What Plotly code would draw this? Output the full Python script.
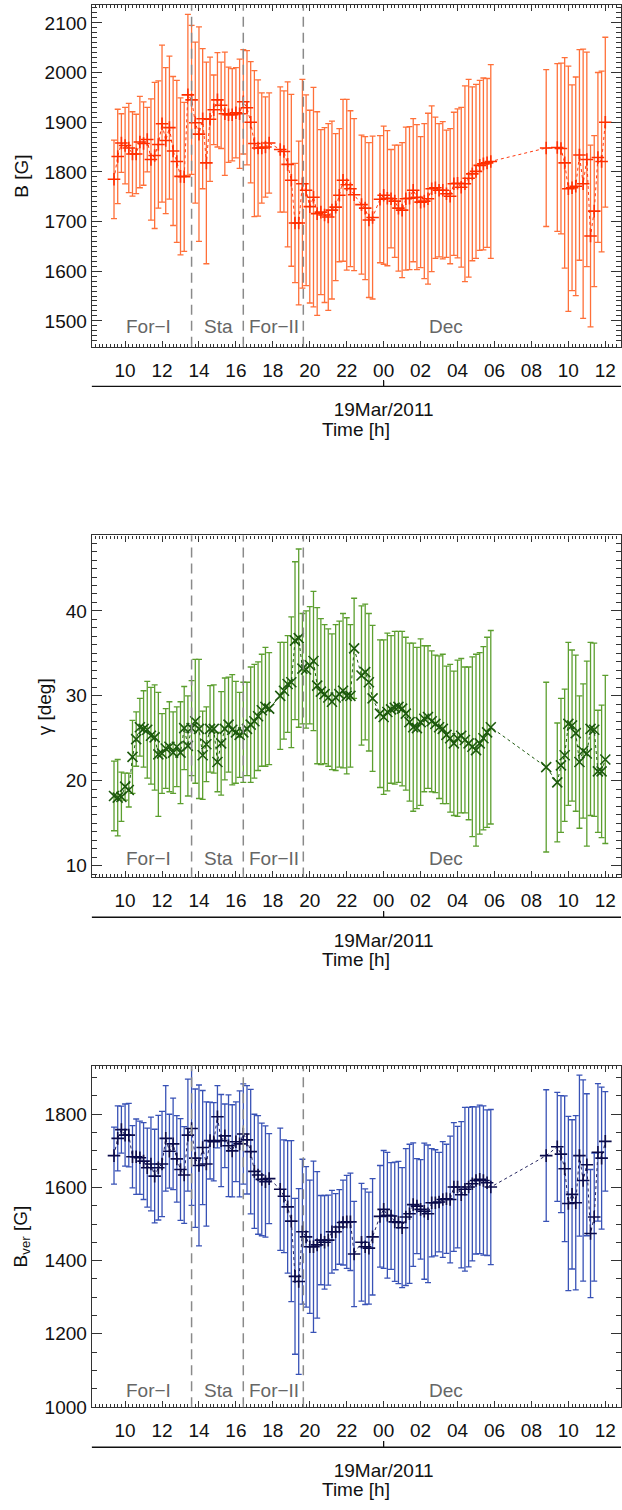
import plotly.graph_objects as go

# ---------------- data ----------------
# time in hours counted from 18 Mar 2011 00:00 (24 = 19 Mar 00:00)
time_h = [
    9.4, 9.6, 9.8, 10.0, 10.2, 10.4, 10.6, 10.8, 11.0, 11.2, 11.4, 11.6, 11.8, 12.0, 12.2,
    12.4, 12.6, 12.8, 13.0, 13.2, 13.4, 13.6, 13.8, 14.0, 14.2, 14.4, 14.6, 14.8, 15.0, 15.2,
    15.4, 15.6, 15.8, 16.0, 16.2, 16.4, 16.6, 16.8, 17.0, 17.2, 17.4, 17.6, 17.8,
    18.4, 18.6, 18.8, 19.0, 19.2, 19.4, 19.6, 19.8, 20.0, 20.2, 20.4, 20.6, 20.8, 21.0, 21.2,
    21.4, 21.6, 21.8, 22.0, 22.2, 22.4,
    22.8, 23.0, 23.2, 23.4,
    23.8, 24.0, 24.2, 24.4, 24.6, 24.8, 25.0, 25.2, 25.4, 25.6, 25.8, 26.0, 26.2, 26.4, 26.6,
    26.8, 27.0, 27.2, 27.4, 27.6, 27.8, 28.0, 28.2, 28.4, 28.6, 28.8, 29.0, 29.2, 29.4, 29.6, 29.8,
    32.8, 33.4, 33.6, 33.8, 34.0, 34.2, 34.4, 34.6, 34.8, 35.0, 35.2, 35.4, 35.6, 35.8, 36.0,
]

B_val = [
    1785, 1831, 1858, 1853, 1848, 1836, 1836, 1860, 1857, 1865, 1825, 1833, 1855, 1897, 1863,
    1889, 1842, 1821, 1791, 1790, 1955, 1945, 1899, 1876, 1907, 1818, 1906, 1925, 1945, 1934,
    1917, 1915, 1915, 1919, 1917, 1941, 1929, 1900, 1857, 1848, 1848, 1850, 1858,
    1845, 1841, 1815, 1783, 1697, 1697, 1776, 1763, 1730, 1749, 1716, 1719, 1713, 1709, 1723,
    1729, 1753, 1783, 1774, 1766, 1754,
    1734, 1727, 1703, 1708,
    1745, 1753, 1747, 1746, 1741, 1727, 1723, 1746, 1747, 1763, 1749, 1739, 1741, 1746, 1766,
    1768, 1763, 1763, 1756, 1751, 1776, 1777, 1769, 1776, 1787, 1796, 1801, 1813, 1816, 1818, 1821,
    1848, 1849, 1847, 1818, 1766, 1768, 1771, 1834, 1776, 1825, 1671, 1721, 1829, 1821, 1900,
]
B_err = [
    79, 95, 59, 77, 90, 85, 80, 92, 84, 65, 122, 147, 128, 158, 147,
    144, 150, 163, 158, 150, 162, 150, 162, 216, 141, 203, 125, 70, 95, 87,
    124, 96, 93, 91, 110, 105, 115, 122, 147, 137, 111, 101, 101,
    126, 122, 166, 173, 120, 165, 210, 192, 194, 221, 205, 166, 176, 188, 179,
    148, 134, 163, 172, 157, 153,
    140, 144, 156, 164,
    128, 139, 136, 99, 113, 127, 136, 144, 144, 144, 146, 132, 156, 172, 167,
    142, 134, 138, 128, 136, 144, 150, 161, 197, 199, 175, 175, 171, 173, 170, 195,
    158, 169, 172, 212, 247, 207, 220, 212, 271, 216, 183, 152, 171, 182, 171,
]

gamma_val = [
    18.2, 18.0, 18.1, 19.3, 18.9, 22.8, 24.9, 26.3, 26.1, 26.0, 25.3, 25.1, 23.1, 23.2, 23.8,
    24.0, 23.3, 24.0, 23.3, 26.2, 24.1, 26.2, 27.0, 26.1, 23.0, 24.3, 26.1, 26.1, 22.2, 24.4,
    26.1, 26.6, 26.0, 25.7, 25.4, 25.7, 26.1, 26.6, 27.0, 27.6, 28.3, 28.7, 28.5,
    30.0, 30.6, 31.4, 31.6, 36.5, 36.8, 33.2, 33.1, 33.6, 34.1, 31.2, 30.5, 30.2, 29.8, 29.3,
    29.8, 30.2, 30.6, 30.0, 30.0, 35.6,
    32.4, 32.8, 31.6, 29.7,
    27.9, 27.5, 28.1, 28.4, 28.6, 28.7, 28.5, 27.9, 26.9, 26.3, 26.2, 26.9, 27.3, 27.5, 27.0,
    26.7, 26.3, 26.1, 25.4, 25.0, 24.4, 25.0, 25.3, 24.8, 24.4, 24.0, 23.6, 24.4, 25.0, 25.7, 26.3,
    21.6, 19.8, 21.8, 23.0, 26.7, 26.5, 25.6, 22.2, 23.5, 23.2, 26.1, 26.0, 21.1, 21.1, 22.5,
]
gamma_err = [
    4.1, 4.5, 2.9, 1.6, 2.0, 4.3, 3.2, 3.4, 4.5, 5.7, 5.7, 6.2, 7.3, 4.7, 4.7,
    5.3, 4.8, 4.7, 6.0, 4.9, 5.9, 5.6, 7.3, 8.2, 5.2, 4.4, 5.1, 5.2, 3.5, 6.1,
    6.0, 5.6, 6.5, 6.0, 5.0, 5.9, 5.5, 6.8, 6.7, 6.4, 6.6, 7.0, 6.6,
    6.3, 5.7, 5.7, 7.7, 9.3, 10.5, 6.5, 6.9, 6.9, 8.2, 9.2, 8.6, 8.2, 8.1, 8.0,
    8.6, 8.6, 9.1, 9.2, 8.4, 5.9,
    8.2, 8.0, 8.1, 8.6,
    8.7, 9.1, 9.3, 8.7, 9.0, 8.9, 9.1, 9.0, 9.3, 9.9, 9.5, 9.8, 8.6, 8.4, 8.3,
    8.1, 8.4, 8.8, 8.1, 8.7, 8.5, 9.2, 9.1, 8.6, 9.0, 10.6, 11.3, 10.7, 10.8, 11.2, 11.4,
    10.0, 7.0, 7.9, 7.8, 9.6, 8.9, 9.2, 7.8, 7.9, 10.9, 10.2, 10.2, 7.2, 7.8, 9.9,
]

Bver_val = [
    1687, 1734, 1758, 1743, 1743, 1684, 1684, 1681, 1672, 1654, 1664, 1631, 1654, 1664, 1734,
    1699, 1719, 1678, 1649, 1634, 1743, 1761, 1680, 1660, 1709, 1664, 1728, 1725, 1793, 1728,
    1741, 1714, 1700, 1725, 1719, 1746, 1730, 1698, 1644, 1634, 1622, 1616, 1624,
    1595, 1576, 1547, 1508, 1357, 1343, 1479, 1465, 1438, 1438, 1443, 1456, 1450, 1456, 1479,
    1479, 1492, 1504, 1506, 1506, 1418,
    1450, 1438, 1434, 1465,
    1521, 1540, 1524, 1522, 1506, 1504, 1490, 1519, 1528, 1553, 1549, 1540, 1535, 1528, 1558,
    1558, 1560, 1567, 1569, 1567, 1601, 1601, 1580, 1595, 1601, 1610, 1619, 1622, 1619, 1613, 1601,
    1687, 1711, 1691, 1651, 1556, 1581, 1558, 1687, 1619, 1662, 1474, 1519, 1696, 1680, 1726,
]
Bver_err = [
    78, 89, 64, 85, 87, 85, 103, 100, 105, 108, 128, 128, 143, 144, 144,
    101, 125, 118, 139, 132, 153, 210, 189, 220, 156, 170, 105, 107, 85, 126,
    87, 139, 126, 109, 145, 137, 148, 170, 156, 162, 154, 152, 123,
    167, 154, 181, 220, 213, 254, 198, 192, 182, 234, 200, 122, 128, 123, 113,
    104, 102, 116, 127, 133, 144,
    161, 158, 153, 159,
    139, 161, 172, 146, 163, 167, 164, 187, 190, 169, 130, 136, 186, 188, 148,
    145, 136, 158, 149, 173, 176, 166, 200, 224, 218, 211, 201, 203, 204, 199, 212,
    180, 149, 160, 199, 238, 204, 238, 220, 275, 194, 175, 175, 188, 194, 136,
]

tick_hours = [10, 12, 14, 16, 18, 20, 22, 24, 26, 28, 30, 32, 34, 36]
tick_labels = ["10", "12", "14", "16", "18", "20", "22", "00", "02", "04", "06", "08", "10", "12"]
date_tick_hour = [24]
date_tick_label = ["19Mar/2011"]

phase_bounds = [13.6, 16.4, 19.65]
phase_names = ["For\u2212I", "Sta", "For\u2212II", "Dec"]
phase_label_hours = [11.25, 15.03, 18.04, 27.37]

# ---------------- layout geometry ----------------
W, H = 622, 1510
FONT = "Liberation Sans, Arial, Helvetica, sans-serif"
X_RANGE = [8.2, 36.85]
x_dom = [92 / W, 1.0]
DATE_TICK_PX = 6

panels = [
    dict(top=5, bottom=349, yrange=[1448, 2136], dtick=100, minor=10, title="B [G]", title_x=22,
         vals=B_val, errs=B_err, bar_col="#ff7039", mk_col="#ff2e00", line_col="#ff3a10",
         symbol="cross-thin", msize=9, lab_y=0.058),
    dict(top=539, bottom=883.3, yrange=[8.6, 48.9], dtick=10, minor=1, title="\u03b3 [deg]", title_x=45,
         vals=gamma_val, errs=gamma_err, bar_col="#5c9f2f", mk_col="#1d5a0e", line_col="#1d5a0e",
         symbol="x-thin", msize=10, lab_y=0.056),
    dict(top=1072.7, bottom=1416.7, yrange=[999, 1933], dtick=200, minor=50, title="B<sub>ver</sub> [G]",
         title_x=22, vals=Bver_val, errs=Bver_err, bar_col="#3852b6", mk_col="#0b0b4a", line_col="#23235e",
         symbol="cross-thin", msize=9, lab_y=0.048),
]

fig = go.Figure()
layout = dict(
    width=W, height=H, margin=dict(l=0, r=0, t=0, b=0),
    paper_bgcolor="white", plot_bgcolor="rgba(0,0,0,0)", showlegend=False,
    font=dict(family=FONT, size=19, color="#111"),
)
annotations = []
shapes = []

for i, p in enumerate(panels):
    n = i + 1
    xa = "x" if n == 1 else f"x{n}"
    ya = "y" if n == 1 else f"y{n}"
    xkey = "xaxis" if n == 1 else f"xaxis{n}"
    ykey = "yaxis" if n == 1 else f"yaxis{n}"
    ydom = [1 - p["bottom"] / H, 1 - p["top"] / H]
    dn = n + 3

    fig.add_trace(go.Scatter(
        x=time_h, y=p["vals"], xaxis=xa, yaxis=ya, mode="lines+markers",
        line=dict(color=p["line_col"], width=1, dash="dot"),
        marker=dict(symbol=p["symbol"], size=p["msize"], color=p["mk_col"],
                    line=dict(color=p["mk_col"], width=1.6)),
        error_y=dict(type="data", array=p["errs"], symmetric=True, color=p["bar_col"],
                     thickness=1.3, width=3),
        hoverinfo="skip",
    ))
    # invisible copy on the thin date-axis subplot so that the date axis gets drawn
    fig.add_trace(go.Scatter(
        x=time_h, y=p["vals"], xaxis=f"x{dn}", yaxis=f"y{dn}", mode="markers",
        marker=dict(opacity=0, size=1), hoverinfo="skip",
    ))

    layout[xkey] = dict(
        domain=x_dom, anchor=ya, range=X_RANGE, tickvals=tick_hours, ticktext=tick_labels,
        ticks="inside", ticklen=6, tickwidth=1, tickcolor="#333",
        showline=True, linecolor="#333", linewidth=1.3, mirror="ticks",
        minor=dict(dtick=0.2, tick0=0, ticks="inside", ticklen=3, tickcolor="#333", tickwidth=1),
        showgrid=False, zeroline=False, ticklabelstandoff=6,
        tickfont=dict(size=19, color="#111", family=FONT),
    )
    layout[ykey] = dict(
        domain=ydom, anchor=xa, range=p["yrange"], dtick=p["dtick"], tick0=0,
        ticks="inside", ticklen=10, tickwidth=1, tickcolor="#333",
        showline=True, linecolor="#333", linewidth=1.3, mirror="ticks",
        minor=dict(dtick=p["minor"], tick0=0, ticks="inside", ticklen=5, tickcolor="#333", tickwidth=1),
        showgrid=False, zeroline=False, ticklabelstandoff=0,
        tickfont=dict(size=19, color="#111", family=FONT),
    )

    # secondary date axis below each panel (thin subplot; its bottom edge is the axis line)
    pos = 1 - (p["bottom"] + 40) / H
    layout[f"xaxis{dn}"] = dict(
        domain=x_dom, anchor=f"y{dn}", side="bottom",
        range=X_RANGE, tickvals=date_tick_hour, ticktext=date_tick_label,
        ticks="inside", ticklen=DATE_TICK_PX, tickwidth=1.2, tickcolor="#111",
        showline=True, linecolor="#111", linewidth=1.3, showgrid=False, zeroline=False,
        ticklabelstandoff=6, tickfont=dict(size=19, color="#111", family=FONT),
    )
    layout[f"yaxis{dn}"] = dict(
        domain=[pos, pos + DATE_TICK_PX / H], anchor=f"x{dn}", range=[0, 1],
        showticklabels=False, ticks="", showline=False,
        showgrid=False, zeroline=False,
    )
    # explicit axis line and tick mark of the date axis
    shapes.append(dict(type="line", xref=f"x{dn} domain", yref=f"y{dn} domain", x0=0, x1=1, y0=0, y1=0,
                       line=dict(color="#111", width=1.3), layer="above"))
    for xt in date_tick_hour:
        shapes.append(dict(type="line", xref=f"x{dn}", yref=f"y{dn} domain", x0=xt, x1=xt, y0=0, y1=1,
                           line=dict(color="#111", width=1.2), layer="above"))

    # phase boundary dashed lines
    for xb in phase_bounds:
        shapes.append(dict(type="line", xref=xa, yref=f"{ya} domain", x0=xb, x1=xb, y0=0, y1=1,
                           line=dict(color="#8a8a8a", width=1.5, dash="10px,6px"), layer="above"))
    # phase labels
    for name, xh in zip(phase_names, phase_label_hours):
        annotations.append(dict(x=xh, y=p["lab_y"], xref=xa, yref=f"{ya} domain", text=name,
                                showarrow=False, xanchor="center", yanchor="middle",
                                font=dict(size=19, color="#666", family=FONT)))
    # y title
    annotations.append(dict(x=p["title_x"] / W, y=1 - (p["top"] + p["bottom"]) / 2 / H,
                            xref="paper", yref="paper", text=p["title"], textangle=-90,
                            showarrow=False, xanchor="center", yanchor="middle",
                            font=dict(size=19, color="#111", family=FONT)))
    # x title
    annotations.append(dict(x=357 / W, y=1 - (p["bottom"] + 83) / H, xref="paper", yref="paper",
                            text="Time [h]", showarrow=False, xanchor="center", yanchor="middle",
                            borderpad=0, font=dict(size=19, color="#111", family=FONT)))

layout["annotations"] = annotations
layout["shapes"] = shapes
fig.update_layout(**layout)
fig.write_html("out.html")
